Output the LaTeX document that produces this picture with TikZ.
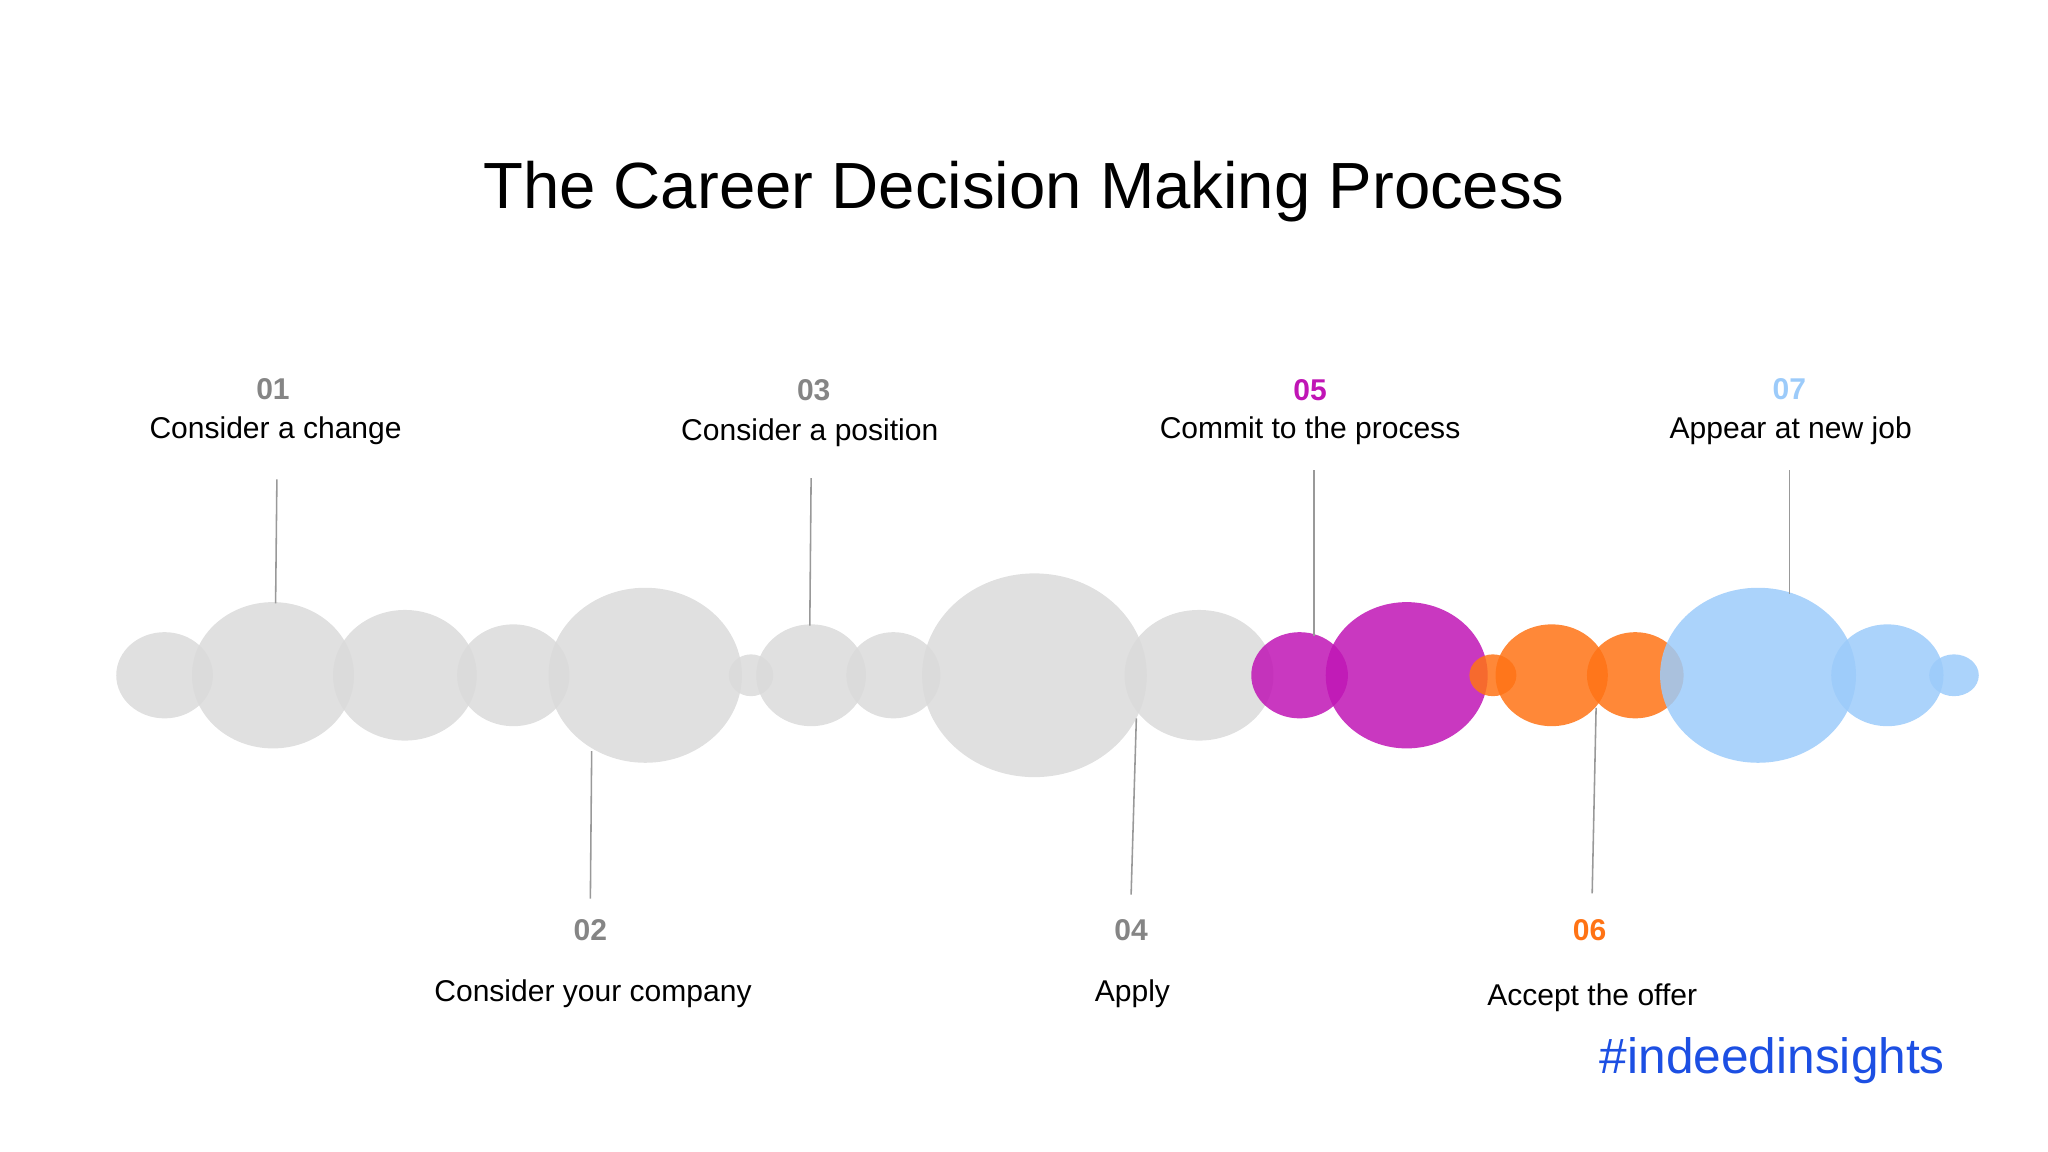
\documentclass[tikz,border=0pt]{standalone}
\usepackage{fontspec}
\setmainfont{Liberation Sans}
\definecolor{bub}{HTML}{DADADA}
\definecolor{mag}{HTML}{C015B5}
\definecolor{org}{HTML}{FF7315}
\definecolor{sky}{HTML}{9CCBFA}
\definecolor{numgray}{HTML}{858585}
\definecolor{tag}{HTML}{1C4FE3}
\begin{document}
\begin{tikzpicture}[x=1pt,y=-1pt,
  bubble/.style={fill=#1,fill opacity=0.85,draw=none},
  lead/.style={draw=gray!80,line width=1.2pt},
  num/.style={font=\fontsize{23}{26}\selectfont\bfseries,text=#1},
  lab/.style={font=\fontsize{23}{26}\selectfont}]
\useasboundingbox (0,0) rectangle (1568,882);
\node[font=\fontsize{50}{56}\selectfont] (title) at (784,147) {The Career Decision Making Process};
\foreach \x/\rx/\ry in {126/37/33,209/62/56,310/55/50,393/43/39,494/74/67,575/17/16,621/42/39,684/36/33,792/86/78,918/57/50}
  \fill[bubble=bub] (\x,517) ellipse [x radius=\rx, y radius=\ry];
\foreach \x/\rx/\ry in {995/37/33,1077/62/56}
  \fill[bubble=mag] (\x,517) ellipse [x radius=\rx, y radius=\ry];
\foreach \x/\rx/\ry in {1143/18/16,1188/43/39,1252/37/33}
  \fill[bubble=org] (\x,517) ellipse [x radius=\rx, y radius=\ry];
\foreach \x/\rx/\ry in {1346/75/67,1445/43/39,1496/19/16}
  \fill[bubble=sky] (\x,517) ellipse [x radius=\rx, y radius=\ry];
% labels
\node[num=numgray] (n1) at (209,298) {01};
\node[lab] (t1) at (211,330) {Consider a change};
\node[num=numgray] (n2) at (452,712) {02};
\node[lab] (t2) at (454,761) {Consider your company};
\node[num=numgray] (n3) at (623,299) {03};
\node[lab] (t3) at (620,331) {Consider a position};
\node[num=numgray] (n4) at (866,712) {04};
\node[lab] (t4) at (867,761) {Apply};
\node[num=mag] (n5) at (1003,299) {05};
\node[lab] (t5) at (1003,330) {Commit to the process};
\node[num=org] (n6) at (1217,712) {06};
\node[lab] (t6) at (1219,764) {Accept the offer};
\node[num=sky] (n7) at (1370,298) {07};
\node[lab] (t7) at (1371,330) {Appear at new job};
\node[font=\fontsize{38}{42}\selectfont,text=tag] (tag) at (1357,812) {\#indeedinsights};
% leaders
\coordinate (a1) at (212,367); \coordinate (b1) at (211,462);
\coordinate (a2) at (453,575); \coordinate (b2) at (452,688);
\coordinate (a3) at (621,366); \coordinate (b3) at (620,479);
\coordinate (a4) at (870,550); \coordinate (b4) at (866,685);
\coordinate (a5) at (1006,360); \coordinate (b5) at (1006,487);
\coordinate (a6) at (1222,542); \coordinate (b6) at (1219,684);
\coordinate (a7) at (1370,360); \coordinate (b7) at (1370,455);
\foreach \i in {1,...,7} \draw[lead] (a\i) -- (b\i);
\end{tikzpicture}
\end{document}
